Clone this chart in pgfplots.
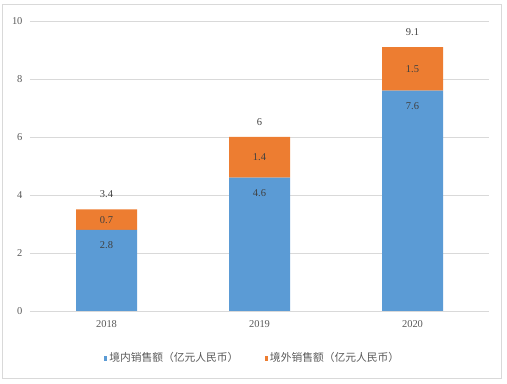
\documentclass[border=0pt]{standalone}
\usepackage{fontspec}
\setmainfont{Liberation Serif}
\newfontfamily\cjk{Noto Sans CJK SC}
\usepackage{pgfplots}
\pgfplotsset{compat=1.18}
\definecolor{cblue}{HTML}{5B9BD5}
\definecolor{corange}{HTML}{ED7D31}
\definecolor{gridc}{HTML}{D9D9D9}
\definecolor{tickc}{HTML}{595959}
\definecolor{labc}{HTML}{404040}
\begin{document}
\begin{tikzpicture}
\useasboundingbox (0,0) rectangle (507bp,384bp);
\draw[gridc, line width=0.8bp] (2.5bp,5.5bp) rectangle (501.5bp,380bp);
\begin{axis}[
  at={(30bp,73bp)}, anchor=south west,
  scale only axis, width=459bp, height=290bp,
  xmin=-0.5, xmax=2.5, ymin=0, ymax=10,
  ytick={0,2,4,6,8,10},
  xtick={0,1,2}, xticklabels={2018,2019,2020},
  ymajorgrids, grid style={gridc, line width=0.8bp},
  axis line style={draw=none}, major tick style={draw=none},
  ybar stacked, bar width=61bp,
  /pgf/number format/assume math mode=true,
  tick label style={font=\fontsize{10.5}{12}\selectfont, text=tickc},
  yticklabel style={xshift=-4bp},
  xticklabel style={yshift=-6bp},
  legend columns=2,
  legend style={at={(0.5,0)}, anchor=center, yshift=-47bp, xshift=-7bp,
    draw=none, fill=none, font=\cjk\fontsize{10.8}{12}\selectfont, text=tickc,
    /tikz/every even column/.append style={column sep=24bp}},
  legend image code/.code={\draw[#1,draw=none] (0bp,-2.5bp) rectangle (3.5bp,2.5bp);},
]
\addplot[fill=cblue, draw=none, point meta=explicit symbolic, nodes near coords,
  visualization depends on={rawy \as \rawy},
  every node near coord/.style={anchor=center, yshift={\rawy*14.5bp-15.4bp}, text=labc, font=\fontsize{10.5}{12}\selectfont}]
  coordinates {(0,2.8) [2.8] (1,4.6) [4.6] (2,7.6) [7.6]};
\addlegendentry{境内销售额（亿元人民币）}
\addplot[fill=corange, draw=none, point meta=explicit symbolic, nodes near coords,
  every node near coord/.style={anchor=center, text=labc, font=\fontsize{10.5}{12}\selectfont}]
  coordinates {(0,0.7) [0.7] (1,1.4) [1.4] (2,1.5) [1.5]};
\addlegendentry{境外销售额（亿元人民币）}
\end{axis}
\begin{axis}[
  at={(30bp,73bp)}, anchor=south west,
  scale only axis, width=459bp, height=290bp,
  xmin=-0.5, xmax=2.5, ymin=0, ymax=10, hide axis,
]
\addplot[only marks, mark=none, point meta=explicit symbolic, nodes near coords,
  every node near coord/.style={anchor=center, yshift=15bp, text=labc, font=\fontsize{10.5}{12}\selectfont}]
  coordinates {(0,3.5) [3.4] (1,6.0) [6] (2,9.1) [9.1]};
\end{axis}
\end{tikzpicture}
\end{document}
